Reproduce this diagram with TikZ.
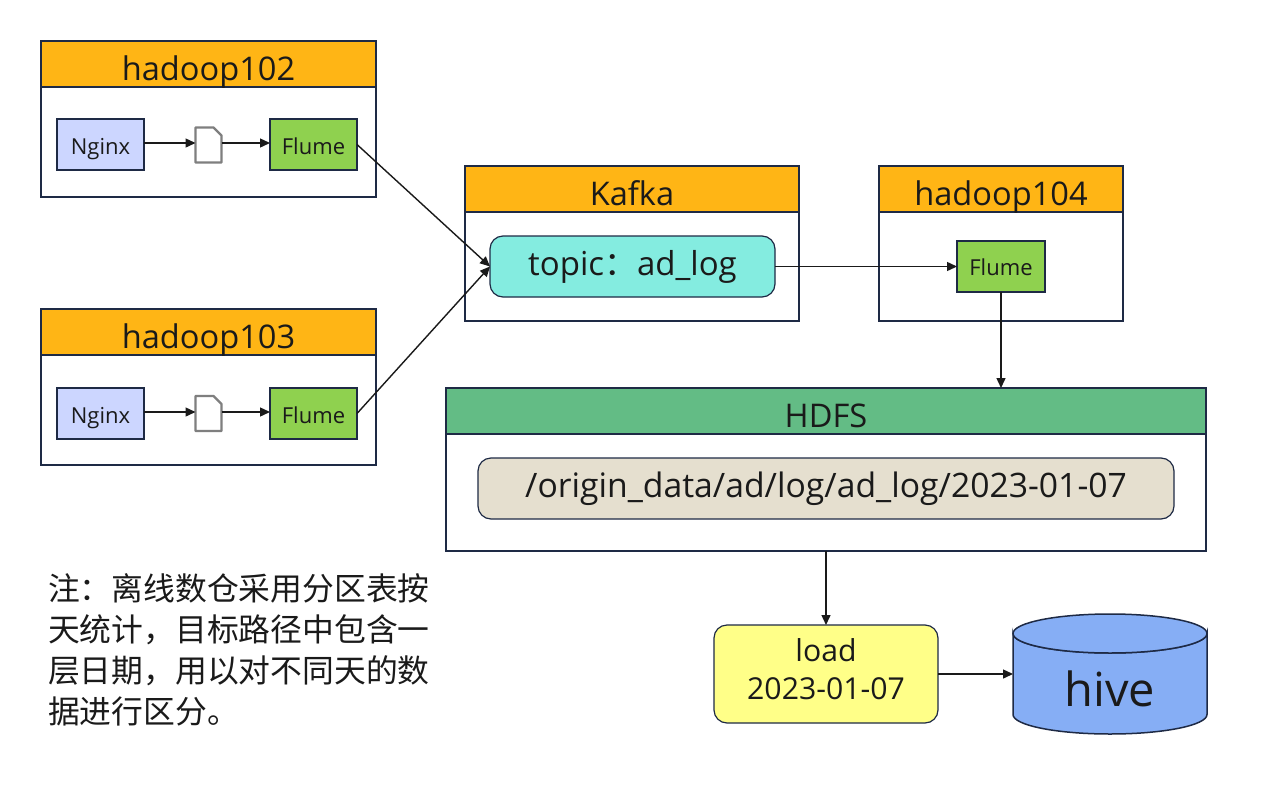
\documentclass[tikz,border=0pt]{standalone}
\usepackage{fontspec}
\setmainfont{Open Sans}
\newfontfamily\cjk{Noto Sans CJK SC}
\usetikzlibrary{arrows.meta}
\definecolor{edge}{HTML}{1E2A45}
\definecolor{ink}{HTML}{1A1A1A}
\definecolor{orangehd}{HTML}{FFB515}
\definecolor{nginxc}{HTML}{CCD6FF}
\definecolor{flumec}{HTML}{8FD14F}
\definecolor{teal}{HTML}{84ECE0}
\definecolor{greenhd}{HTML}{63BC85}
\definecolor{tan}{HTML}{E5DFCF}
\definecolor{yel}{HTML}{FFFF88}
\definecolor{hiveblue}{HTML}{86AEF5}
\definecolor{docgray}{HTML}{7F7F7F}
% baseline #1 pt below the node's centre
\newcommand{\lowr}[2]{\raisebox{-#1pt}[0pt][0pt]{#2}}
\tikzset{
  every node/.style={inner sep=0pt,outer sep=0pt,text=ink},
  outerbox/.style={draw=edge,line width=1.2pt,fill=white,anchor=north west},
  headbox/.style={draw=edge,line width=1.2pt,fill=orangehd,anchor=north west,font=\fontsize{32.6}{38}\selectfont},
  smallbox/.style={draw=edge,line width=1.2pt,anchor=north west,font=\fontsize{22}{26}\selectfont},
  roundbox/.style={draw=edge,line width=1.2pt,anchor=north west,rounded corners=13pt},
  conn/.style={draw=ink,line width=1.4pt,-{Triangle[length=10pt,width=9pt]}},
  docbase/.style={minimum width=26pt,minimum height=35pt,anchor=north west},
  docline/.style={draw=docgray,line width=2.4pt,fill=white,line join=round},
  hiveline/.style={draw=edge,line width=1.5pt,fill=hiveblue}
}
\newcommand{\docshape}[1]{\draw[docline] (#1.south west) -- (#1.north west) -- ([xshift=-8pt]#1.north east) -- ([yshift=-8pt]#1.north east) -- (#1.south east) -- cycle;}
\begin{document}
\begin{tikzpicture}[x=1pt,y=-1pt]
\useasboundingbox[fill=white] (0,0) rectangle (1269,798);
% hadoop102
\node[outerbox,minimum width=335pt,minimum height=156pt] (h2) at (41,41) {};
\node[headbox,minimum width=335pt,minimum height=46pt] (h2t) at (41,41) {\lowr{16}{hadoop102}};
\node[smallbox,fill=nginxc,minimum width=87pt,minimum height=51pt] (n2) at (57,119) {\lowr{9.5}{Nginx}};
\node[docbase] (d2) at (195.5,127.5) {};
\docshape{d2}
\node[smallbox,fill=flumec,minimum width=87pt,minimum height=51pt] (f2) at (270,119) {\lowr{9.5}{Flume}};
% hadoop103
\node[outerbox,minimum width=335pt,minimum height=156pt] (h3) at (41,309) {};
\node[headbox,minimum width=335pt,minimum height=46pt] (h3t) at (41,309) {\lowr{16}{hadoop103}};
\node[smallbox,fill=nginxc,minimum width=87pt,minimum height=51pt] (n3) at (57,388) {\lowr{9.5}{Nginx}};
\node[docbase] (d3) at (195.5,396) {};
\docshape{d3}
\node[smallbox,fill=flumec,minimum width=87pt,minimum height=51pt] (f3) at (270,388) {\lowr{9.5}{Flume}};
% kafka
\node[outerbox,minimum width=334pt,minimum height=155pt] (k) at (465,166) {};
\node[headbox,minimum width=334pt,minimum height=46pt] (kt) at (465,166) {\lowr{16}{Kafka}};
\node[roundbox,fill=teal,minimum width=285pt,minimum height=61pt,font=\fontsize{33}{38}\selectfont] (topic) at (490,236) {\lowr{9}{topic{\cjk ：}ad\_log}};
% hadoop104
\node[outerbox,minimum width=244pt,minimum height=155pt] (h4) at (879,166) {};
\node[headbox,minimum width=244pt,minimum height=46pt] (h4t) at (879,166) {\lowr{16}{hadoop104}};
\node[smallbox,fill=flumec,minimum width=88pt,minimum height=51pt] (f4) at (957,241) {\lowr{9}{Flume}};
% hdfs
\node[outerbox,minimum width=760pt,minimum height=163pt] (hd) at (446,388) {};
\node[headbox,fill=greenhd,minimum width=760pt,minimum height=46pt] (hdt) at (446,388) {\lowr{16}{HDFS}};
\node[roundbox,fill=tan,minimum width=696pt,minimum height=61pt,font=\fontsize{33.7}{38}\selectfont] (path) at (478,458) {\lowr{9}{/origin\_data/ad/log/ad\_log/2023-01-07}};
% load
\node[roundbox,fill=yel,minimum width=224pt,minimum height=98pt,align=center,font=\fontsize{30.2}{38}\selectfont] (load) at (714,625) {\lowr{6}{load}\\\lowr{6}{2023-01-07}};
% hive
\node[minimum width=194pt,minimum height=120pt] (hive) at (1110,674) {};
\draw[hiveline] (hive.west |- 0,633.5) arc[start angle=180,end angle=360,x radius=97pt,y radius=19.5pt]
  -- (hive.east |- 0,714.5) arc[start angle=0,end angle=180,x radius=97pt,y radius=-19.5pt] -- cycle;
\draw[hiveline] (1110,633.5) ellipse[x radius=97pt,y radius=19.5pt];
\node[font=\fontsize{47}{50}\selectfont] (hivet) at (hive.center) {\lowr{32}{hive}};
% note
\node[anchor=north west,align=left,font=\cjk\fontsize{31.8}{41}\selectfont] (note) at (48,574)
 {注：离线数仓采用分区表按\\天统计，目标路径中包含一\\层日期，用以对不同天的数\\据进行区分。};
% connectors
\draw[conn] (n2.east) ++(0,-1.5) coordinate (a2) -- (a2 -| d2.west);
\draw[conn] (a2 -| d2.east) -- (a2 -| f2.west);
\draw[conn] (n3.east) ++(0,-1.5) coordinate (a3) -- (a3 -| d3.west);
\draw[conn] (a3 -| d3.east) -- (a3 -| f3.west);
\draw[conn] (f2.east) -- (topic.west);
\draw[conn] (f3.east) -- (topic.west);
\draw[conn] (topic.east) -- (f4.west);
\draw[conn] (f4.south) -- (f4.south |- hd.north);
\draw[conn] (load.north |- hd.south) -- (load.north);
\draw[conn] (load.east) -- (load.east -| hive.west);
\end{tikzpicture}
\end{document}
